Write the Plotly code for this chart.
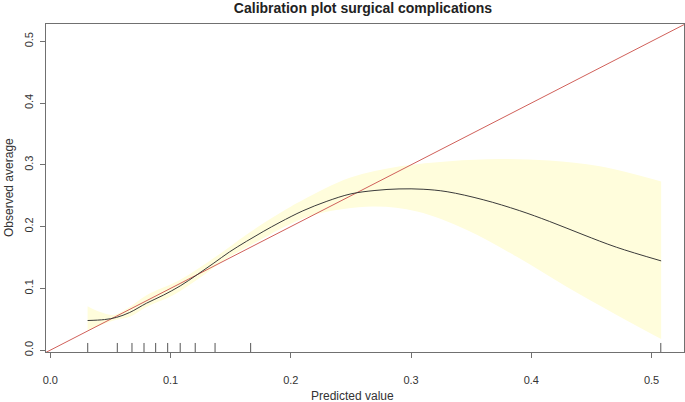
import plotly.graph_objects as go

# Smoothed calibration curve
curve_x = [0.031, 0.045, 0.055, 0.066, 0.080, 0.094, 0.108, 0.122, 0.136, 0.149, 0.163,
           0.177, 0.191, 0.210, 0.230, 0.250, 0.270, 0.290, 0.310, 0.330, 0.360, 0.390,
           0.415, 0.443, 0.471, 0.508]
curve_y = [0.048, 0.0495, 0.053, 0.061, 0.076, 0.089, 0.104, 0.122, 0.141, 0.159, 0.176,
           0.192, 0.207, 0.2255, 0.241, 0.253, 0.2585, 0.261, 0.2605, 0.2565, 0.2435, 0.226,
           0.2085, 0.187, 0.1665, 0.1445]

# Confidence band
upper_x = [0.031, 0.041, 0.052, 0.066, 0.080, 0.108, 0.136, 0.163, 0.191, 0.210, 0.249,
           0.291, 0.332, 0.374, 0.415, 0.457, 0.508]
upper_y = [0.071, 0.062, 0.057, 0.070, 0.089, 0.114, 0.149, 0.187, 0.222, 0.243, 0.279,
           0.2976, 0.306, 0.3096, 0.307, 0.2976, 0.273]
lower_x = [0.031, 0.052, 0.066, 0.080, 0.102, 0.122, 0.149, 0.177, 0.194, 0.221, 0.268,
           0.305, 0.346, 0.388, 0.429, 0.471, 0.508]
lower_y = [0.032, 0.0476, 0.054, 0.070, 0.089, 0.114, 0.151, 0.181, 0.199, 0.2200, 0.2326,
           0.2245, 0.195, 0.151, 0.103, 0.057, 0.018]

# Rug of predicted values
rug_x = [0.0311, 0.0557, 0.0679, 0.0779, 0.0876, 0.0976, 0.108, 0.1205, 0.137, 0.1666, 0.5077]

tick_vals = [0.0, 0.1, 0.2, 0.3, 0.4, 0.5]
tick_text = ["0.0", "0.1", "0.2", "0.3", "0.4", "0.5"]

FONT = "Liberation Sans, Arial, sans-serif"

W, H = 685, 402
ML, MR, MT, MB = 46, 1, 24, 50
PW, PH = W - ML - MR, H - MT - MB

fig = go.Figure()

fig.add_trace(go.Scatter(x=lower_x, y=lower_y, mode="lines",
                         line=dict(width=0, shape="spline", smoothing=1, color="#FFFDDC"),
                         hoverinfo="skip", showlegend=False))
fig.add_trace(go.Scatter(x=upper_x, y=upper_y, mode="lines", fill="tonexty",
                         fillcolor="#FFFDDC",
                         line=dict(width=0, shape="spline", smoothing=1, color="#FFFDDC"),
                         hoverinfo="skip", showlegend=False))

fig.add_trace(go.Scatter(x=[-0.01, 0.6], y=[-0.01, 0.6], mode="lines",
                         line=dict(color="#D0605A", width=1), showlegend=False))

fig.add_trace(go.Scatter(x=curve_x, y=curve_y, mode="lines",
                         line=dict(color="#3A3A3A", width=1, shape="spline", smoothing=1),
                         showlegend=False))

for rx in rug_x:
    fig.add_shape(type="line", xref="x", yref="y domain", x0=rx, x1=rx, y0=0, y1=0.0275,
                  line=dict(color="#555555", width=1))

axis_common = dict(
    showgrid=False, zeroline=False, showline=True, mirror=True, automargin=False,
    linecolor="#707070", linewidth=1, ticks="outside", ticklen=5, tickcolor="#707070",
    tickvals=tick_vals, ticktext=tick_text,
    tickfont=dict(family=FONT, size=11, color="#333333"),
)

fig.update_layout(
    width=W, height=H,
    margin=dict(l=ML, r=MR, t=MT, b=MB),
    paper_bgcolor="white", plot_bgcolor="white",
    title=dict(text="<b>Calibration plot surgical complications</b>", x=363 / W,
               xanchor="center", y=1 - 8 / H, yanchor="middle", yref="container",
               font=dict(family=FONT, size=14, color="#222222")),
    xaxis=dict(range=[-0.0036, 0.527], ticklabelstandoff=13, **axis_common),
    yaxis=dict(range=[-0.003, 0.528], tickangle=-90, ticklabelstandoff=3, **axis_common),
    annotations=[
        dict(text="Predicted value", xref="paper", yref="paper",
             x=(352 - ML) / PW, y=-(396 - (H - MB)) / PH, xanchor="center", yanchor="middle",
             showarrow=False, font=dict(family=FONT, size=12, color="#333333")),
        dict(text="Observed average", xref="paper", yref="paper",
             x=-(ML - 9) / PW, y=0.5, xanchor="center", yanchor="middle", textangle=-90,
             showarrow=False, font=dict(family=FONT, size=12, color="#333333")),
    ],
)

fig.write_html(
    "out.html",
    config={"displayModeBar": False},
    post_script="document.body.style.margin='0';document.body.style.overflow='hidden';",
)
